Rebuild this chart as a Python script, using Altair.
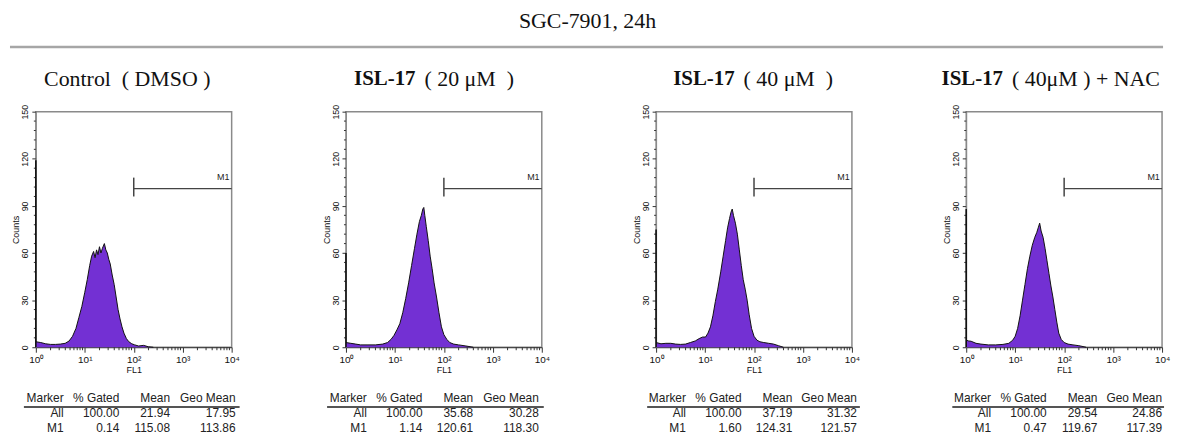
import altair as alt
import pandas as pd
import numpy as np

MAIN_TITLE = "SGC-7901, 24h"
title_bold = ["", "ISL-17", "ISL-17", "ISL-17"]
title_rest = ["Control\u2002( DMSO )", "( 20 μM\u2002)", "( 40 μM\u2002)", "( 40μM ) + NAC"]

# histogram outlines: log10(FL1) position and counts
pos_ctrl = [0.00, 0.10, 0.20, 0.30, 0.40, 0.50, 0.60, 0.68, 0.75, 0.82, 0.88, 0.94,
            1.00, 1.05, 1.10, 1.14, 1.18, 1.21, 1.24, 1.27, 1.30, 1.33, 1.36,
            1.40, 1.43, 1.46, 1.49, 1.52, 1.56, 1.60, 1.64, 1.68, 1.72, 1.76, 1.80,
            1.85, 1.90, 1.96, 2.02, 2.10, 2.20, 2.30, 2.40]
cnt_ctrl = [3.5, 3.0, 2.2, 1.8, 1.8, 2.0, 2.5, 4, 7, 12, 19, 26,
            35, 43, 52, 58, 61, 57, 62, 59, 64, 60, 63,
            66, 62, 60, 56, 53, 46, 40, 32, 24, 18, 13, 9,
            5.5, 3.5, 2.2, 1.5, 0.8, 1.2, 0.3, 0]

pos_20 = [0.00, 0.10, 0.20, 0.30, 0.45, 0.60, 0.75, 0.85, 0.92, 0.98,
          1.04, 1.10, 1.16, 1.22, 1.28, 1.34, 1.40, 1.45, 1.50,
          1.54, 1.57, 1.59, 1.61, 1.64, 1.68, 1.72, 1.76, 1.80,
          1.85, 1.90, 1.95, 2.00, 2.06, 2.12, 2.20, 2.30, 2.45, 2.60]
cnt_20 = [3.0, 2.5, 2.0, 1.5, 1.5, 1.5, 2.0, 3.0, 5.0, 7.5,
          11, 15, 22, 31, 41, 52, 63, 72, 80,
          84, 88, 89, 84, 77, 68, 58, 50, 41,
          32, 22, 13, 8, 5, 3, 2, 1.5, 0.8, 0]

pos_40 = [0.00, 0.10, 0.20, 0.30, 0.40, 0.50, 0.60, 0.70, 0.80, 0.88,
          0.95, 1.01, 1.06, 1.11, 1.16, 1.21, 1.26, 1.32, 1.37, 1.42,
          1.46, 1.50, 1.53, 1.555, 1.58, 1.62, 1.66, 1.70, 1.74, 1.78,
          1.82, 1.86, 1.90, 1.95, 2.00, 2.06, 2.12, 2.20, 2.30, 2.40, 2.50, 2.60]
cnt_40 = [3.0, 2.2, 2.5, 2.5, 2.0, 1.8, 2.0, 3.0, 4.0, 5.5,
          6.5, 6.5, 9, 13, 20, 29, 37, 48, 58, 68,
          76, 82, 86, 88, 84, 79, 72, 62, 52, 43,
          37, 30, 21, 12, 7, 4.5, 3.5, 3.0, 2.5, 2.0, 1.0, 0]

pos_nac = [0.00, 0.05, 0.10, 0.20, 0.30, 0.45, 0.60, 0.75, 0.87, 0.95,
           1.00, 1.05, 1.10, 1.15, 1.20, 1.25, 1.30, 1.35, 1.40, 1.44,
           1.47, 1.50, 1.53, 1.57, 1.61, 1.65, 1.69, 1.73, 1.77, 1.81,
           1.85, 1.89, 1.94, 2.00, 2.08, 2.18, 2.30, 2.45]
cnt_nac = [4.5, 4.0, 3.8, 2.5, 2.0, 1.5, 1.5, 1.8, 2.5, 4.5,
           7, 12, 20, 30, 40, 50, 58, 65, 70, 73,
           76, 79, 74, 70, 63, 55, 47, 39, 32, 24,
           16, 9, 5, 3, 2, 1.5, 1, 0]

positions = [pos_ctrl, pos_20, pos_40, pos_nac]
counts = [cnt_ctrl, cnt_20, cnt_40, cnt_nac]
first_channel = [119, 60, 75, 88]   # off-scale first channel spike

# M1 marker gate
m1_start = 100
m1_end = 10000
m1_level = 101
m1_tick_lo = 96
m1_tick_hi = 108
m1_label = "M1"

# statistics tables
table_rows = ["head", "All", "M1"]
col_marker = ["Marker", "All", "M1"]
gated_all = ["100.00", "100.00", "100.00", "100.00"]
gated_m1 = ["0.14", "1.14", "1.60", "0.47"]
mean_all = ["21.94", "35.68", "37.19", "29.54"]
mean_m1 = ["115.08", "120.61", "124.31", "119.67"]
geo_all = ["17.95", "30.28", "31.32", "24.86"]
geo_m1 = ["113.86", "118.30", "121.57", "117.39"]

x_major = [1, 10, 100, 1000, 10000]
x_major_labels = ["10⁰", "10¹", "10²", "10³", "10⁴"]
x_minor = [2, 3, 4, 5, 6, 7, 8, 9, 20, 30, 40, 50, 60, 70, 80, 90,
           200, 300, 400, 500, 600, 700, 800, 900, 2000, 3000, 4000, 5000,
           6000, 7000, 8000, 9000]
y_major = [0, 30, 60, 90, 120, 150]
y_minor = [6, 12, 18, 24, 36, 42, 48, 54, 66, 72, 78, 84, 96, 102, 108, 114,
           126, 132, 138, 144]

PURPLE = "#7330D3"
SERIF = "Liberation Serif"
SANS = "Liberation Sans"
W, H = 197, 237
TW, TH = 197, 30

# layout of texts relative to each plot's left/top edge
title_split = [92, 70, 79, 37]
table_cols_x = [[28, 84, 135, 201], [21, 77, 128, 194], [30, 86, 137, 202], [25, 81, 132, 197]]
table_rule = [[-12, 205], [-19, 199], [-9, 205], [-14, 199]]

x_label_expr = " : ".join(
    f"datum.value == {v} ? '{t}'" for v, t in zip(x_major, x_major_labels)) + " : ''"


def hist_panel(i):
    df = pd.DataFrame({"fl1": np.power(10.0, positions[i]), "count": counts[i]})
    xs = alt.Scale(type="log", domain=[1, 10000], nice=False)
    ys = alt.Scale(domain=[0, 150], nice=False)
    xaxis = alt.Axis(
        values=x_major, labelExpr=x_label_expr, labelOverlap=False, labelFlush=False,
        tickSize=5, tickColor="#333", domainColor="#333", labelFont=SANS, labelFontSize=10,
        labelColor="#111", labelPadding=2, grid=False, title="FL1",
        titleFont=SANS, titleFontSize=9, titleFontWeight="normal", titleColor="#111",
        titlePadding=1)
    yaxis = alt.Axis(
        values=y_major, labelOverlap=False, labelAngle=270, labelAlign="center",
        labelBaseline="bottom", tickSize=4, tickColor="#333", domainColor="#888",
        labelFont=SANS, labelFontSize=9, labelColor="#111", labelPadding=2, grid=False,
        title="Counts", titleFont=SANS, titleFontSize=9, titleFontWeight="normal",
        titleColor="#111", titlePadding=0)

    area = alt.Chart(df).mark_area(
        color=PURPLE, opacity=1, interpolate="linear",
        line={"color": "#111", "strokeWidth": 1}
    ).encode(
        x=alt.X("fl1:Q", scale=xs, axis=xaxis, title="FL1"),
        y=alt.Y("count:Q", scale=ys, axis=yaxis, title="Counts"),
    )

    # minor ticks along the axes
    xm = alt.Chart(pd.DataFrame({"fl1": x_minor})).mark_rule(
        color="#333", strokeWidth=1).encode(
        x=alt.X("fl1:Q", title="FL1"), y=alt.value(H), y2=alt.value(H + 3))
    ym = alt.Chart(pd.DataFrame({"count": y_minor})).mark_rule(
        color="#333", strokeWidth=1).encode(
        y=alt.Y("count:Q", title="Counts"), x=alt.value(0), x2=alt.value(-2))

    spike_df = pd.DataFrame({"fl1": [1.0], "lo": [0], "hi": [first_channel[i]]})
    spike = alt.Chart(spike_df).mark_rule(color="#111", strokeWidth=1.6).encode(
        x=alt.X("fl1:Q", title="FL1"), y=alt.Y("lo:Q", title="Counts"), y2="hi:Q")

    gate_df = pd.DataFrame({"a": [m1_start], "b": [m1_end], "lvl": [m1_level],
                            "lo": [m1_tick_lo], "hi": [m1_tick_hi]})
    gate = alt.Chart(gate_df).mark_rule(color="#444", strokeWidth=1.5).encode(
        x=alt.X("a:Q", title="FL1"), x2="b:Q", y=alt.Y("lvl:Q", title="Counts"))
    gate_tick = alt.Chart(gate_df).mark_rule(color="#444", strokeWidth=1.5).encode(
        x=alt.X("a:Q", title="FL1"), y=alt.Y("lo:Q", title="Counts"), y2="hi:Q")
    lab_df = pd.DataFrame({"fl1": [9000], "count": [108.5], "t": [m1_label]})
    gate_lab = alt.Chart(lab_df).mark_text(
        align="right", baseline="middle", font=SANS, fontSize=9, color="#222"
    ).encode(x=alt.X("fl1:Q", title="FL1"), y=alt.Y("count:Q", title="Counts"), text="t:N")

    layers = [area, xm, ym, spike, gate, gate_tick, gate_lab]

    if title_bold[i]:
        bdf = pd.DataFrame({"t": [title_bold[i]]})
        layers.append(alt.Chart(bdf).mark_text(
            align="right", baseline="middle", font=SERIF, fontSize=21,
            fontWeight="bold", color="#111"
        ).encode(x=alt.value(title_split[i]), y=alt.value(-33), text="t:N"))
        rdf = pd.DataFrame({"t": [title_rest[i]]})
        layers.append(alt.Chart(rdf).mark_text(
            align="left", baseline="middle", font=SERIF, fontSize=22, color="#111"
        ).encode(x=alt.value(title_split[i] + 9), y=alt.value(-33), text="t:N"))
    else:
        rdf = pd.DataFrame({"t": [title_rest[i]]})
        layers.append(alt.Chart(rdf).mark_text(
            align="center", baseline="middle", font=SERIF, fontSize=22, color="#111"
        ).encode(x=alt.value(title_split[i]), y=alt.value(-33), text="t:N"))

    if i == 0:
        mdf = pd.DataFrame({"t": [MAIN_TITLE]})
        layers.append(alt.Chart(mdf).mark_text(
            align="center", baseline="middle", font=SERIF, fontSize=22, color="#111"
        ).encode(x=alt.value(555), y=alt.value(-91), text="t:N"))
        layers.append(alt.Chart(mdf).mark_rule(color="#a6a6a6", strokeWidth=2.5).encode(
            x=alt.value(-26), x2=alt.value(1134), y=alt.value(-65)))

    return alt.layer(*layers).properties(width=W, height=H)


def table_panel(i):
    df = pd.DataFrame({
        "row": table_rows,
        "c0": col_marker,
        "c1": ["% Gated", gated_all[i], gated_m1[i]],
        "c2": ["Mean", mean_all[i], mean_m1[i]],
        "c3": ["Geo Mean", geo_all[i], geo_m1[i]],
    })
    ys = alt.Scale(type="point", domain=table_rows, padding=0)
    layers = []
    for k, c in enumerate(["c0", "c1", "c2", "c3"]):
        layers.append(alt.Chart(df).mark_text(
            align="right", baseline="middle", font=SANS, fontSize=12, color="#222"
        ).encode(x=alt.value(table_cols_x[i][k]), y=alt.Y("row:N", scale=ys, axis=None),
                 text=f"{c}:N"))
    layers.append(alt.Chart(df.head(1)).mark_rule(color="#555", strokeWidth=2).encode(
        x=alt.value(table_rule[i][0]), x2=alt.value(table_rule[i][1]), y=alt.value(9)))
    return alt.layer(*layers).properties(
        width=TW, height=TH, view=alt.ViewBackground(stroke="transparent"))


charts = [hist_panel(i) for i in range(4)] + [table_panel(i) for i in range(4)]

chart = alt.concat(
    *charts, columns=4, spacing={"row": 51, "column": 115}, bounds="flush"
).properties(
    padding={"left": 0, "top": 0, "right": 0, "bottom": 0}
).configure_view(
    stroke="#8a8a8a", strokeWidth=1.5
)

chart.save("out.html", embed_options={"renderer": "svg", "actions": False})
